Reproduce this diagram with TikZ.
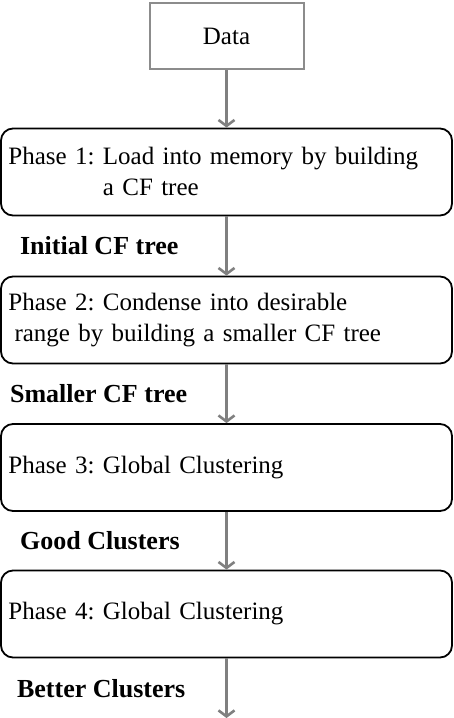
\documentclass[tikz,border=0pt]{standalone}
\usepackage{fontspec}
\setmainfont{Liberation Serif}
\usetikzlibrary{arrows.meta}
\frenchspacing
\tikzset{
  databox/.style={draw=gray!90, line width=1pt, minimum width=77pt, minimum height=33pt},
  phasebox/.style={draw=black, line width=0.9pt, rounded corners=6pt, minimum width=225.5pt,
    minimum height=43.5pt, text width=218pt, inner xsep=3.3pt, align=left},
  flow/.style={draw=gray, line width=1.3pt, -{Straight Barb[length=3pt,width=8pt,line width=1.3pt]}},
  stage/.style={anchor=west, font=\fontsize{13}{15}\selectfont\bfseries}
}
\begin{document}
\begin{tikzpicture}[x=0.5pt,y=-0.5pt,font=\fontsize{12.5}{15.5}\selectfont]
\useasboundingbox (0,0) rectangle (454,718);
\node[databox] (data) at (226.5,36) {Data};
\node[phasebox] (p1) at (226.5,172) {Phase 1: Load into memory by building\\\phantom{Phase 1: }a CF tree};
\node[phasebox] (p2) at (226.5,320) {Phase 2: Condense into desirable\\\hspace*{3pt}range by building a smaller CF tree};
\node[phasebox] (p3) at (226.5,467.5) {Phase 3: Global Clustering};
\node[phasebox] (p4) at (226.5,614) {Phase 4: Global Clustering};
\node[stage] (l1) at (13,246) {Initial CF tree};
\node[stage] (l2) at (3,394) {Smaller CF tree};
\node[stage] (l3) at (13,541) {Good Clusters};
\node[stage] (l4) at (10,689) {Better Clusters};
\coordinate (out) at (226.5,718);
\draw[flow] (data.south) -- (p1.north);
\draw[flow] (p1.south) -- (p2.north);
\draw[flow] (p2.south) -- (p3.north);
\draw[flow] (p3.south) -- (p4.north);
\draw[flow] (p4.south) -- (out);
\end{tikzpicture}
\end{document}
